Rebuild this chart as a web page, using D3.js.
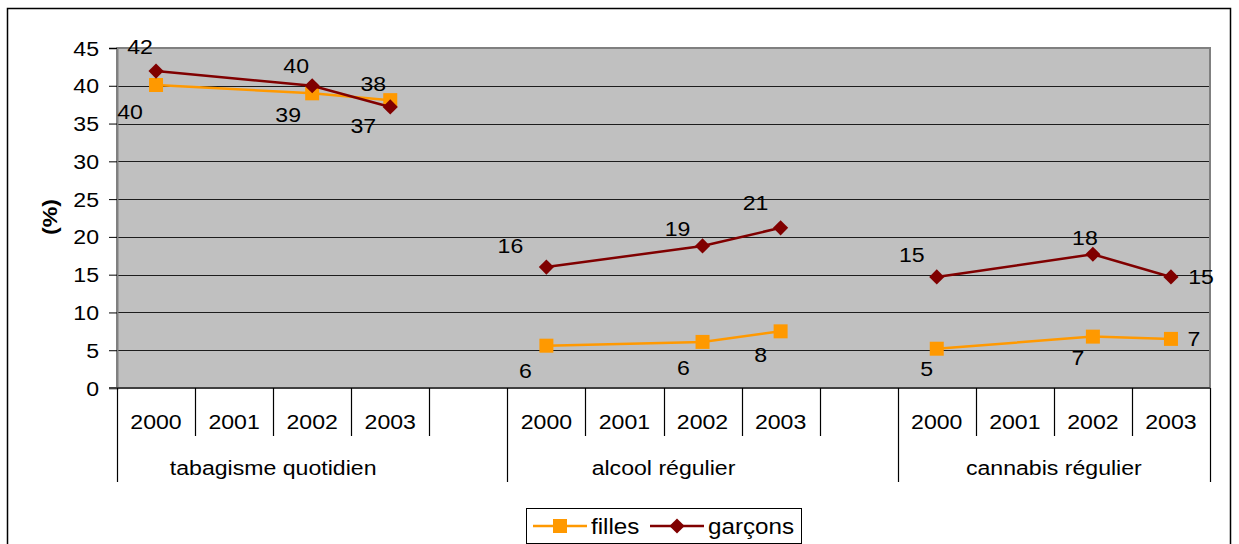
<!DOCTYPE html>
<html>
<head>
<meta charset="utf-8">
<script src="https://cdn.jsdelivr.net/npm/d3@7/dist/d3.min.js"></script>
<style>
  html, body { margin: 0; padding: 0; background: #fff; }
  svg { display: block; font-family: "Liberation Sans", Arial, sans-serif; }
</style>
</head>
<body>
<svg id="chart" width="1239" height="544"></svg>
<script>
// ---- data ----
const groups = ["tabagisme quotidien", "alcool régulier", "cannabis régulier"];
const years = ["2000", "2001", "2002", "2003"];
const seriesNames = ["filles", "garçons"];
// values per group, per year (null = no data for 2001)
const filles = [
  [40.1, null, 39.0, 38.1],
  [5.6, null, 6.1, 7.5],
  [5.2, null, 6.8, 6.5]
];
const garcons = [
  [41.95, null, 40.0, 37.2],
  [16.0, null, 18.8, 21.2],
  [14.7, null, 17.7, 14.7]
];
const yTicks = [0, 5, 10, 15, 20, 25, 30, 35, 40, 45];
const yTitle = "(%)";

// ---- styling / label placement (pixels, not data) ----
const labelOffsetsFilles = [
  [[-26, 26], null, [-24, 21], [-17, -17]],
  [[-21, 25], null, [-19, 26], [-20, 23]],
  [[-10, 20], null, [-15, 21], [23, 0]]
];
const labelOffsetsGarcons = [
  [[-16, -25], null, [-16, -20], [-27, 19]],
  [[-36, -22], null, [-25, -18], [-25, -25]],
  [[-25, -22], null, [-8, -17], [30, 0]]
];
const colFilles = "#FF9900";
const colGarcons = "#800000";
const SX = 1.1; // horizontal text stretch to match reference rendering
const squareSize = 196, diamondSize = 115;

const svg = d3.select("#chart");
const plot = { left: 117, top: 48, right: 1210, bottom: 388 };

function txt(parent, x0, y0, s, opts = {}) {
  const t = parent.append("text")
    .attr("transform", `translate(${x0},${y0}) scale(${SX},1)`)
    .attr("text-anchor", opts.anchor || "middle")
    .attr("dy", opts.dy || "0.36em")
    .attr("font-size", opts.size || 21)
    .attr("fill", "#000")
    .text(s);
  if (opts.weight) t.attr("font-weight", opts.weight);
  return t;
}

// outer border
svg.append("rect").attr("x", 7.5).attr("y", 8.5).attr("width", 1223).attr("height", 560)
  .attr("fill", "#fff").attr("stroke", "#000").attr("stroke-width", 1.5);

// category slots: 4 years per group + spacer between groups
const slots = [];
groups.forEach((g, gi) => {
  years.forEach(y => slots.push(gi + "|" + y));
  if (gi < groups.length - 1) slots.push(gi + "|gap");
});
const x = d3.scaleBand().domain(slots).range([plot.left, plot.right]).padding(0);
const y = d3.scaleLinear().domain([0, 45]).range([plot.bottom, plot.top]);

// plot background
svg.append("rect").attr("x", plot.left).attr("y", plot.top)
  .attr("width", plot.right - plot.left).attr("height", plot.bottom - plot.top)
  .attr("fill", "#C0C0C0");

// gridlines
svg.append("g").selectAll("line").data(yTicks.filter(t => t > 0 && t < 45)).join("line")
  .attr("x1", plot.left).attr("x2", plot.right)
  .attr("y1", d => Math.round(y(d)) + 0.5).attr("y2", d => Math.round(y(d)) + 0.5)
  .attr("stroke", "#000").attr("stroke-width", 1).attr("stroke-opacity", 0.85);

// plot border
svg.append("rect").attr("x", plot.left).attr("y", plot.top)
  .attr("width", plot.right - plot.left).attr("height", plot.bottom - plot.top)
  .attr("fill", "none").attr("stroke", "#808080").attr("stroke-width", 2);

// y axis (ticks via axis, labels drawn stretched)
const yAxis = d3.axisLeft(y).tickValues(yTicks).tickSize(8).tickFormat("");
const gy = svg.append("g").attr("transform", `translate(${plot.left},0)`).call(yAxis);
gy.select(".domain").attr("stroke", "#808080").attr("stroke-width", 2);
gy.selectAll(".tick line").attr("stroke", "#000");
const gyl = svg.append("g");
yTicks.forEach(t => txt(gyl, 99, y(t), String(t), { anchor: "end" }));

// y title
svg.append("text").attr("transform", `translate(57,217) rotate(-90) scale(${SX},1)`)
  .attr("text-anchor", "middle").attr("font-size", 21).attr("font-weight", "bold")
  .text(yTitle);

// x axis baseline
svg.append("line").attr("x1", plot.left - 8).attr("x2", plot.right)
  .attr("y1", plot.bottom).attr("y2", plot.bottom)
  .attr("stroke", "#404040").attr("stroke-width", 2);

// slot separators
const bounds = slots.map(s => x(s)).concat([plot.right]);
const groupStarts = groups.map((g, gi) => x(gi + "|2000"));
const groupBounds = groupStarts.concat([plot.right]);
svg.append("g").selectAll("line").data(bounds).join("line")
  .attr("x1", d => Math.round(d) + 0.5).attr("x2", d => Math.round(d) + 0.5)
  .attr("y1", plot.bottom)
  .attr("y2", d => groupBounds.some(b => Math.abs(b - d) < 0.5) ? 482 : 436)
  .attr("stroke", "#000").attr("stroke-width", 1.2);

// year labels
const gxl = svg.append("g");
slots.filter(s => !s.endsWith("gap")).forEach(s =>
  txt(gxl, x(s) + x.bandwidth() / 2, 421, s.split("|")[1]));

// group labels
groups.forEach((g, i) =>
  txt(gxl, (x(i + "|2000") + x(i + "|2003") + x.bandwidth()) / 2, 467, g));

// series
function drawSeries(values, offsets, color, diamond) {
  const g = svg.append("g");
  values.forEach((vals, gi) => {
    const pts = vals.map((v, yi) => ({ v, yi, key: gi + "|" + years[yi] }))
      .filter(p => p.v !== null);
    const cx = p => x(p.key) + x.bandwidth() / 2;
    const line = d3.line().x(cx).y(p => y(p.v));
    g.append("path").attr("d", line(pts)).attr("fill", "none")
      .attr("stroke", color).attr("stroke-width", 2.5);
    const sym = d3.symbol().type(d3.symbolSquare).size(diamond ? diamondSize : squareSize);
    g.selectAll(null).data(pts).join("path")
      .attr("transform", p => `translate(${cx(p)},${y(p.v)})` + (diamond ? " rotate(45)" : ""))
      .attr("d", sym).attr("fill", color);
    pts.forEach(p => txt(g, cx(p) + offsets[gi][p.yi][0], y(p.v) + offsets[gi][p.yi][1],
      String(Math.round(p.v))));
  });
}
drawSeries(filles, labelOffsetsFilles, colFilles, false);
drawSeries(garcons, labelOffsetsGarcons, colGarcons, true);

// legend
const lg = svg.append("g");
lg.append("rect").attr("x", 526.5).attr("y", 508.5).attr("width", 275).attr("height", 35)
  .attr("fill", "#fff").attr("stroke", "#000").attr("stroke-width", 1);
const legendItems = [
  { name: seriesNames[0], color: colFilles, diamond: false, x0: 533 },
  { name: seriesNames[1], color: colGarcons, diamond: true, x0: 650 }
];
legendItems.forEach(it => {
  lg.append("line").attr("x1", it.x0).attr("x2", it.x0 + 54).attr("y1", 526).attr("y2", 526)
    .attr("stroke", it.color).attr("stroke-width", 2.5);
  lg.append("path").attr("d", d3.symbol().type(d3.symbolSquare).size(it.diamond ? diamondSize : squareSize)())
    .attr("transform", `translate(${it.x0 + 27},526)` + (it.diamond ? " rotate(45)" : ""))
    .attr("fill", it.color);
  txt(lg, it.x0 + 58, 526, it.name, { anchor: "start", size: 22 });
});
</script>
</body>
</html>
